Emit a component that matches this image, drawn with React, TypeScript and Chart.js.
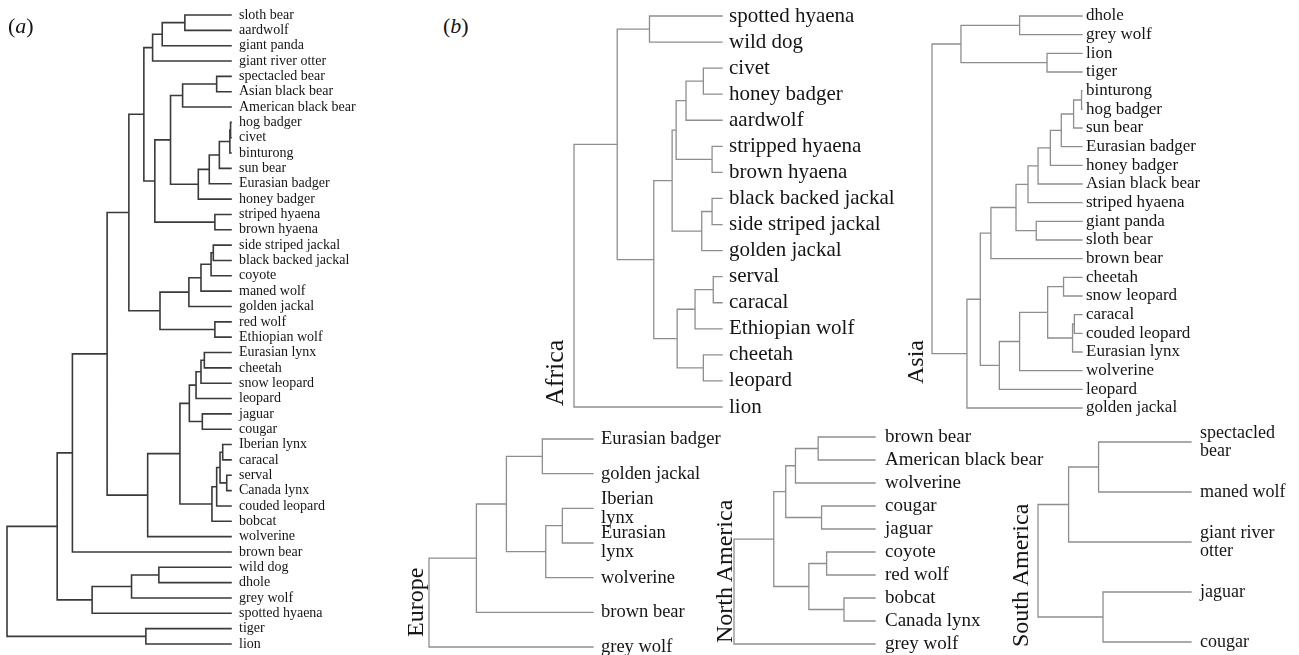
import React, { useEffect, useRef } from 'react';
import { Chart, registerables } from 'chart.js';

Chart.register(...registerables);

type Ref = string | number;
type Merge = [Ref, Ref, number];

// ---------- (a) all species ----------
const aLeaves = ['sloth bear', 'aardwolf', 'giant panda', 'giant river otter', 'spectacled bear', 'Asian black bear', 'American black bear', 'hog badger', 'civet', 'binturong', 'sun bear', 'Eurasian badger', 'honey badger', 'striped hyaena', 'brown hyaena', 'side striped jackal', 'black backed jackal', 'coyote', 'maned wolf', 'golden jackal', 'red wolf', 'Ethiopian wolf', 'Eurasian lynx', 'cheetah', 'snow leopard', 'leopard', 'jaguar', 'cougar', 'Iberian lynx', 'caracal', 'serval', 'Canada lynx', 'couded leopard', 'bobcat', 'wolverine', 'brown bear', 'wild dog', 'dhole', 'grey wolf', 'spotted hyaena', 'tiger', 'lion'];
const aMerges: Merge[] = [
  ['sloth bear', 'aardwolf', 0.206],
  [0, 'giant panda', 0.307],
  [1, 'giant river otter', 0.350],
  ['spectacled bear', 'Asian black bear', 0.064],
  [3, 'American black bear', 0.216],
  ['hog badger', 'civet', 0.002],
  [5, 'binturong', 0.005],
  [6, 'sun bear', 0.052],
  [7, 'Eurasian badger', 0.097],
  [8, 'honey badger', 0.146],
  [4, 9, 0.270],
  ['striped hyaena', 'brown hyaena', 0.072],
  [10, 11, 0.340],
  [2, 12, 0.389],
  ['side striped jackal', 'black backed jackal', 0.079],
  [14, 'coyote', 0.089],
  [15, 'maned wolf', 0.134],
  [16, 'golden jackal', 0.188],
  ['red wolf', 'Ethiopian wolf', 0.072],
  [17, 18, 0.317],
  [13, 19, 0.456],
  ['Eurasian lynx', 'cheetah', 0.119],
  [21, 'snow leopard', 0.134],
  [22, 'leopard', 0.156],
  ['jaguar', 'cougar', 0.128],
  [23, 24, 0.186],
  ['Iberian lynx', 'caracal', 0.037],
  ['serval', 'Canada lynx', 0.019],
  [26, 27, 0.049],
  [28, 'couded leopard', 0.064],
  [29, 'bobcat', 0.085],
  [25, 30, 0.228],
  [31, 'wolverine', 0.372],
  [20, 32, 0.553],
  [33, 'brown bear', 0.708],
  ['wild dog', 'dhole', 0.322],
  [35, 'grey wolf', 0.444],
  [36, 'spotted hyaena', 0.620],
  [34, 37, 0.776],
  ['tiger', 'lion', 0.380],
  [38, 39, 1.0],
];

// ---------- (b) Africa ----------
const africaLeaves = ['spotted hyaena', 'wild dog', 'civet', 'honey badger', 'aardwolf', 'stripped hyaena', 'brown hyaena', 'black backed jackal', 'side striped jackal', 'golden jackal', 'serval', 'caracal', 'Ethiopian wolf', 'cheetah', 'leopard', 'lion'];
const africaMerges: Merge[] = [
  ['spotted hyaena', 'wild dog', 0.490],
  ['civet', 'honey badger', 0.126],
  [1, 'aardwolf', 0.243],
  ['stripped hyaena', 'brown hyaena', 0.067],
  [2, 3, 0.310],
  ['black backed jackal', 'side striped jackal', 0.067],
  [5, 'golden jackal', 0.137],
  [4, 6, 0.337],
  ['serval', 'caracal', 0.059],
  [8, 'Ethiopian wolf', 0.182],
  ['cheetah', 'leopard', 0.126],
  [9, 10, 0.303],
  [7, 11, 0.461],
  [0, 12, 0.708],
  [13, 'lion', 1.0],
];

// ---------- (b) Asia ----------
const asiaLeaves = ['dhole', 'grey wolf', 'lion', 'tiger', 'binturong', 'hog badger', 'sun bear', 'Eurasian badger', 'honey badger', 'Asian black bear', 'striped hyaena', 'giant panda', 'sloth bear', 'brown bear', 'cheetah', 'snow leopard', 'caracal', 'couded leopard', 'Eurasian lynx', 'wolverine', 'leopard', 'golden jackal'];
const asiaMerges: Merge[] = [
  ['dhole', 'grey wolf', 0.416],
  ['lion', 'tiger', 0.233],
  [0, 1, 0.807],
  ['binturong', 'hog badger', 0.003],
  [3, 'sun bear', 0.056],
  [4, 'Eurasian badger', 0.138],
  [5, 'honey badger', 0.211],
  [6, 'Asian black bear', 0.293],
  [7, 'striped hyaena', 0.360],
  ['giant panda', 'sloth bear', 0.305],
  [8, 9, 0.440],
  [10, 'brown bear', 0.607],
  ['cheetah', 'snow leopard', 0.123],
  ['caracal', 'couded leopard', 0.051],
  [13, 'Eurasian lynx', 0.063],
  [12, 14, 0.229],
  [15, 'wolverine', 0.416],
  [16, 'leopard', 0.551],
  [11, 17, 0.678],
  [18, 'golden jackal', 0.767],
  [2, 19, 1.0],
];

// ---------- (b) Europe ----------
const europeLeaves = ['Eurasian badger', 'golden jackal', 'Iberian\nlynx', 'Eurasian\nlynx', 'wolverine', 'brown bear', 'grey wolf'];
const europeMerges: Merge[] = [
  ['Eurasian badger', 'golden jackal', 0.309],
  ['Iberian lynx', 'Eurasian lynx', 0.187],
  [1, 'wolverine', 0.288],
  [0, 2, 0.528],
  [3, 'brown bear', 0.711],
  [4, 'grey wolf', 1.0],
];

// ---------- (b) North America ----------
const naLeaves = ['brown bear', 'American black bear', 'wolverine', 'cougar', 'jaguar', 'coyote', 'red wolf', 'bobcat', 'Canada lynx', 'grey wolf'];
const naMerges: Merge[] = [
  ['brown bear', 'American black bear', 0.403],
  [0, 'wolverine', 0.564],
  ['cougar', 'jaguar', 0.379],
  [1, 2, 0.633],
  ['coyote', 'red wolf', 0.343],
  ['bobcat', 'Canada lynx', 0.220],
  [4, 5, 0.469],
  [3, 6, 0.718],
  [7, 'grey wolf', 1.0],
];

// ---------- (b) South America ----------
const saLeaves = ['spectacled\nbear', 'maned wolf', 'giant river\notter', 'jaguar', 'cougar'];
const saMerges: Merge[] = [
  ['spectacled bear', 'maned wolf', 0.604],
  [0, 'giant river otter', 0.800],
  ['jaguar', 'cougar', 0.575],
  [1, 2, 1.0],
];

const FONT = '"Liberation Serif", "Times New Roman", Times, serif';

type PanelCfg = {
  leaves: string[];
  merges: Merge[];
  root: number; tip: number; top: number; bottom: number;
  font: number; pad: number; color: string; lw: number; labelW: number;
};

const DARK = '#3a3a3a';
const GREY = '#8e8e8e';

const panels: PanelCfg[] = [
  { leaves: aLeaves, merges: aMerges, root: 7.3, tip: 231, top: 14.5, bottom: 643.9, font: 14, pad: 8, color: DARK, lw: 1.6, labelW: 150 },
  { leaves: africaLeaves, merges: africaMerges, root: 574.3, tip: 722.7, top: 15.7, bottom: 406.7, font: 21, pad: 7, color: GREY, lw: 1.3, labelW: 180 },
  { leaves: asiaLeaves, merges: asiaMerges, root: 931.7, tip: 1081.7, top: 16, bottom: 407.7, font: 17, pad: 4, color: GREY, lw: 1.3, labelW: 160 },
  { leaves: europeLeaves, merges: europeMerges, root: 429.3, tip: 593.3, top: 439, bottom: 646.7, font: 18.5, pad: 8, color: GREY, lw: 1.3, labelW: 140 },
  { leaves: naLeaves, merges: naMerges, root: 734.3, tip: 875, top: 437.3, bottom: 644, font: 19, pad: 10, color: GREY, lw: 1.3, labelW: 180 },
  { leaves: saLeaves, merges: saMerges, root: 1037.7, tip: 1190.7, top: 442.3, bottom: 642.7, font: 18, pad: 9, color: GREY, lw: 1.3, labelW: 108 },
];

const regionLabels = [
  { text: 'Africa', left: 542, bottom: 406, size: 26 },
  { text: 'Asia', left: 903, bottom: 384, size: 24 },
  { text: 'Europe', left: 403, bottom: 637, size: 24 },
  { text: 'North America', left: 712, bottom: 643, size: 24 },
  { text: 'South America', left: 1008, bottom: 647, size: 24 },
];

function buildSegments(leaves: string[], merges: Merge[]) {
  const key = (s: string) => s.replace(/\n/g, ' ');
  const nodes: { h: number; y: number }[] = [];
  const resolve = (r: Ref) =>
    typeof r === 'number' ? nodes[r] : { h: 0, y: leaves.findIndex((l) => key(l) === r) };
  const pts: { x: number; y: number | null }[] = [];
  merges.forEach(([a, b, h]) => {
    const A = resolve(a);
    const B = resolve(b);
    pts.push({ x: A.h, y: A.y }, { x: h, y: A.y }, { x: h, y: B.y }, { x: B.h, y: B.y }, { x: h, y: null });
    nodes.push({ h, y: (A.y + B.y) / 2 });
  });
  return pts;
}

const PAD_L = 6;
const PAD_T = 30;
const PAD_B = 30;

function Dendro({ cfg }: { cfg: PanelCfg }) {
  const ref = useRef<HTMLCanvasElement>(null);
  const width = Math.round(PAD_L + (cfg.tip - cfg.root) + cfg.labelW);
  const height = Math.round(PAD_T + (cfg.bottom - cfg.top) + PAD_B);
  const left = cfg.root - PAD_L;
  const top = cfg.top - PAD_T;
  useEffect(() => {
    const { leaves, merges } = cfg;
    const chart = new Chart(ref.current as HTMLCanvasElement, {
      type: 'scatter',
      data: {
        datasets: [
          {
            data: buildSegments(leaves, merges) as any,
            showLine: true,
            borderColor: cfg.color,
            borderWidth: cfg.lw,
            pointRadius: 0,
            pointHoverRadius: 0,
            clip: false as any,
            spanGaps: false,
            borderCapStyle: 'square',
            borderJoinStyle: 'miter',
          } as any,
        ],
      },
      options: {
        responsive: false,
        animation: false,
        events: [],
        layout: { padding: { left: PAD_L, top: PAD_T, bottom: PAD_B, right: 0 } },
        plugins: { legend: { display: false }, tooltip: { enabled: false } },
        scales: {
          x: { type: 'linear', display: false, min: 0, max: 1, reverse: true },
          y: {
            type: 'linear',
            position: 'right',
            min: 0,
            max: leaves.length - 1,
            reverse: true,
            grid: { display: false, drawTicks: false },
            border: { display: false },
            afterBuildTicks: (s: any) => {
              s.ticks = leaves.map((_, i) => ({ value: i }));
            },
            afterFit: (s: any) => {
              s.width = cfg.labelW;
            },
            ticks: {
              autoSkip: false,
              padding: cfg.pad,
              color: '#151515',
              font: { family: FONT, size: cfg.font, lineHeight: 1.02 },
              callback: (v: any) => leaves[Math.round(Number(v))].split('\n'),
            },
          } as any,
        },
      },
    });
    return () => chart.destroy();
  }, [cfg]);
  return (
    <canvas
      ref={ref}
      width={width}
      height={height}
      style={{ position: 'absolute', left, top, width, height }}
    />
  );
}

export default function App() {
  return (
    <div
      style={{
        position: 'fixed',
        left: 0,
        top: 0,
        width: 1299,
        height: 655,
        background: '#fff',
        overflow: 'hidden',
        fontFamily: FONT,
        color: '#151515',
      }}
    >
      {panels.map((p, i) => (
        <Dendro key={i} cfg={p} />
      ))}
      <div style={{ position: 'absolute', left: 8, top: 15, fontSize: 22, lineHeight: '22px' }}>
        (<span style={{ fontStyle: 'italic' }}>a</span>)
      </div>
      <div style={{ position: 'absolute', left: 443, top: 15, fontSize: 22, lineHeight: '22px' }}>
        (<span style={{ fontStyle: 'italic' }}>b</span>)
      </div>
      {regionLabels.map((r) => (
        <div
          key={r.text}
          style={{
            position: 'absolute',
            left: r.left,
            top: r.bottom,
            fontSize: r.size,
            lineHeight: `${r.size}px`,
            whiteSpace: 'nowrap',
            transformOrigin: '0 0',
            transform: 'rotate(-90deg)',
          }}
        >
          {r.text}
        </div>
      ))}
    </div>
  );
}
